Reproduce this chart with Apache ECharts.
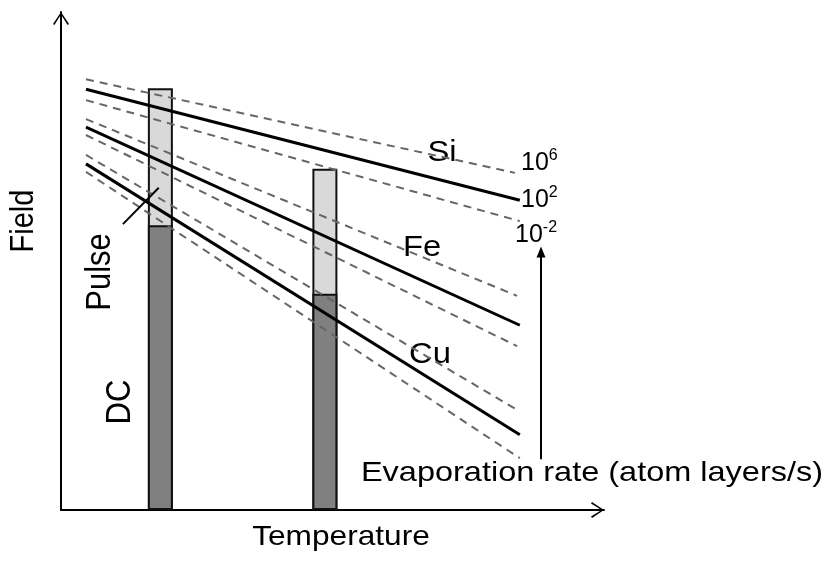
<!DOCTYPE html>
<html>
<head>
<meta charset="utf-8">
<script src="https://cdn.jsdelivr.net/npm/echarts@6/dist/echarts.min.js"></script>
<style>html,body{margin:0;padding:0;background:#fff;}#c{width:829px;height:561px;}</style>
</head>
<body>
<div id="c"></div>
<script>
// Schematic data (axis units 0-100)
const siSolid = [[4.6, 84.5], [84.5, 62.2]];
const siUpper = [[4.6, 86.5], [83.6, 67.7]];
const siLower = [[4.6, 82.3], [84.5, 58.0]];
const feSolid = [[4.6, 76.9], [84.5, 37.1]];
const feUpper = [[4.6, 78.5], [84.0, 43.0]];
const feLower = [[4.6, 75.3], [84.0, 32.9]];
const cuSolid = [[4.6, 69.5], [84.5, 15.1]];
const cuUpper = [[4.6, 71.3], [84.0, 20.1]];
const cuLower = [[4.6, 67.9], [84.5, 10.4]];
const barPositions = [18.3, 48.6];
const dcField = [57.2, 43.4];
const pulseField = [84.7, 68.5];
const pulseMarker = [[11.4, 57.4], [18.0, 64.7]];
const rateArrow = [[88.4, 10.2], [88.4, 51.8]];
const elementLabels = ['Si', 'Fe', 'Cu'];
const rateExponents = ['6', '2', '-2'];

const FONT = 'Liberation Sans, Arial, sans-serif';
const chart = echarts.init(document.getElementById('c'), null, {renderer: 'canvas'});
const chevron = 'path://M0,12 L8,0 L16,12 L14.6,13 L8,2.4 L1.4,13 Z';

function solid(d) {
  return {type: 'line', data: d, symbol: 'none', silent: true, z: 5,
    lineStyle: {color: '#000', width: 3}};
}
function dashed(d) {
  return {type: 'line', data: d, symbol: 'none', silent: true, z: 4,
    lineStyle: {color: '#666', width: 2, type: [8, 6]}};
}

const hText = (text, x, y, size, sx) => ({
  type: 'text', x: x, y: y, scaleX: sx || 1.13,
  style: {text: text, font: size + 'px ' + FONT, fill: '#000', align: 'center', verticalAlign: 'middle'}
});
const vText = (text, x, y, size) => ({
  type: 'text', x: x, y: y, rotation: Math.PI / 2, scaleY: 1.12,
  style: {text: text, font: size + 'px ' + FONT, fill: '#000', align: 'center', verticalAlign: 'middle'}
});
const supText = (exp, x, y) => ({
  type: 'text', x: x, y: y,
  style: {
    text: '10{s|' + exp + '}', fill: '#000', align: 'left', verticalAlign: 'middle',
    fontFamily: FONT, fontSize: 25, lineHeight: 30,
    rich: {s: {fontSize: 16, fontFamily: FONT, verticalAlign: 'top', lineHeight: 30, padding: [0, 0, 12, 0]}}
  }
});

const option = {
  animation: false,
  backgroundColor: '#fff',
  grid: {left: 61, top: 12, width: 543, height: 498},
  xAxis: {
    type: 'value', min: 0, max: 100,
    axisLine: {show: true, onZero: false, lineStyle: {color: '#000', width: 2},
      symbol: ['none', chevron], symbolSize: [16, 13], symbolOffset: [0, -6.5]},
    axisTick: {show: false}, axisLabel: {show: false}, splitLine: {show: false}
  },
  yAxis: {
    type: 'value', min: 0, max: 100,
    axisLine: {show: true, onZero: false, lineStyle: {color: '#000', width: 2},
      symbol: ['none', chevron], symbolSize: [16, 13], symbolOffset: [0, -6.5]},
    axisTick: {show: false}, axisLabel: {show: false}, splitLine: {show: false}
  },
  series: [
    {type: 'bar', barWidth: 25, barGap: '-100%', silent: true, z: 2,
      data: barPositions.map((x, i) => [x, pulseField[i]]),
      itemStyle: {color: '#d9d9d9', borderColor: '#111', borderWidth: 2}},
    {type: 'bar', barWidth: 25, barGap: '-100%', silent: true, z: 3,
      data: barPositions.map((x, i) => [x, dcField[i]]),
      itemStyle: {color: '#808080', borderColor: '#111', borderWidth: 2}},
    dashed(siUpper), solid(siSolid), dashed(siLower),
    dashed(feUpper), solid(feSolid), dashed(feLower),
    dashed(cuUpper), solid(cuSolid), dashed(cuLower),
    {type: 'line', data: pulseMarker, symbol: 'none', silent: true, z: 6,
      lineStyle: {color: '#000', width: 2}},
    {type: 'line', data: [], symbol: 'none', silent: true,
      markLine: {silent: true, symbol: ['none', 'triangle'], symbolSize: [9, 11], animation: false,
        label: {show: false}, lineStyle: {color: '#000', width: 2, type: 'solid'},
        data: [[{coord: rateArrow[0]}, {coord: rateArrow[1]}]]}}
  ],
  graphic: [
    vText('Field', 24, 221, 29),
    hText('Temperature', 341, 537, 28),
    vText('Pulse', 100, 272, 31),
    vText('DC', 120, 402, 31),
    hText(elementLabels[0], 442, 153, 29),
    hText(elementLabels[1], 422, 248, 29),
    hText(elementLabels[2], 430, 355, 29),
    supText(rateExponents[0], 521, 163),
    supText(rateExponents[1], 521, 200),
    supText(rateExponents[2], 515, 235),
    hText('Evaporation rate (atom layers/s)', 592, 473, 28, 1.16)
  ]
};
chart.setOption(option);
</script>
</body>
</html>
